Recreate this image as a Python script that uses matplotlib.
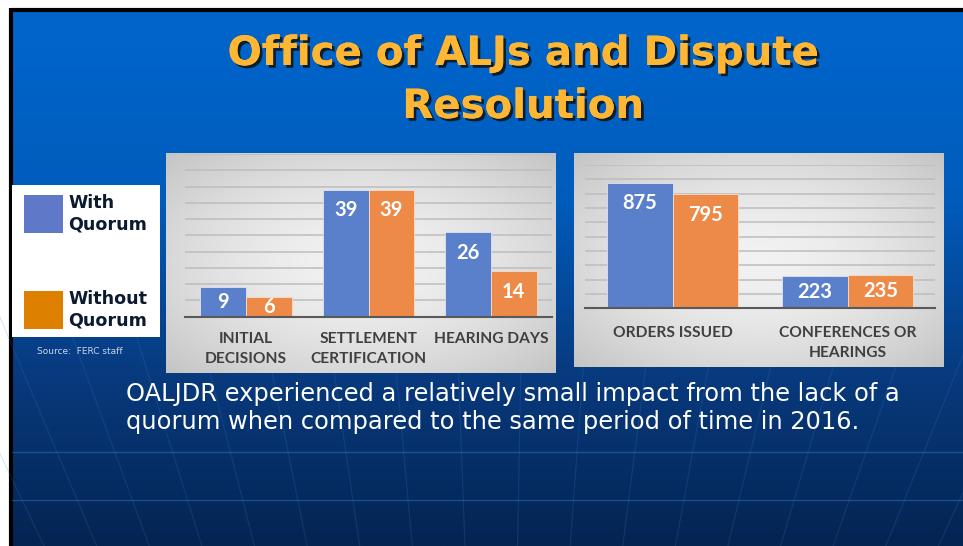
import matplotlib.pyplot as plt
import matplotlib.patheffects as pe
import numpy as np

# data
left_categories = ['INITIAL\nDECISIONS', 'SETTLEMENT\nCERTIFICATION', 'HEARING DAYS']
left_with = [9, 39, 26]
left_without = [6, 39, 14]

right_categories = ['ORDERS ISSUED', 'CONFERENCES OR\nHEARINGS']
right_with = [875, 223]
right_without = [795, 235]

series_names = ['With\nQuorum', 'Without\nQuorum']

W, H = 963, 546
blue_bar = '#5B80CB'
orange_bar = '#EE8A47'
blue_key = '#6078C8'
orange_key = '#DD8000'

fig = plt.figure(figsize=(W / 100, H / 100), dpi=100)
fig.patch.set_facecolor('white')

# background axes in pixel coordinates (y down)
bg = fig.add_axes([0, 0, 1, 1])
bg.set_xlim(0, W)
bg.set_ylim(H, 0)
bg.set_axis_off()

# slide gradient
stops_y = [0.0, 0.35, 0.68, 1.0]
stops_c = np.array([[0, 102, 204], [0, 92, 188], [8, 58, 126], [4, 36, 82]]) / 255
t = np.linspace(0, 1, 300)
grad = np.stack([np.interp(t, stops_y, stops_c[:, k]) for k in range(3)], axis=1)
grad = np.repeat(grad[:, None, :], 2, axis=1)
bg.imshow(grad, extent=(12, W, H, 11), aspect='auto', zorder=0)

# slide frame
bg.plot([11, W], [9.5, 9.5], color='black', lw=3, zorder=1, solid_capstyle='butt')
bg.plot([11, 11], [8, H], color='black', lw=3, zorder=1, solid_capstyle='butt')

# faint globe lines
for yy in [452, 500]:
    bg.plot([12, W], [yy, yy], color='#3F7FD8', lw=1, alpha=0.4, zorder=1)
px, py = 500, 1500
for x_top in np.arange(-300, 1400, 75):
    ys = np.linspace(300, H, 40)
    frac = (ys - 140) / (py - 140)
    xs = x_top + (px - x_top) * frac
    bg.plot(xs, ys, color='#3F7FD8', lw=0.8, alpha=0.2, zorder=1)

# title
title_fx = [pe.withSimplePatchShadow(offset=(2, -2), shadow_rgbFace='#111111', alpha=0.85), pe.Normal()]
for txt, yy in [('Office of ALJs and Dispute', 54), ('Resolution', 107)]:
    bg.text(523, yy, txt, ha='center', va='center', fontsize=29, fontweight='bold',
            color='#FFB733', family='DejaVu Sans', path_effects=title_fx, zorder=5)

# chart panels with light radial shading
def panel(x0, y0, x1, y1):
    ny, nx = 100, 200
    yy, xx = np.mgrid[-1:1:ny * 1j, -1:1:nx * 1j]
    r = np.sqrt(xx ** 2 + yy ** 2) / np.sqrt(2)
    v = 0.95 - 0.18 * r ** 1.6
    img = np.stack([v, v, v], axis=2)
    bg.imshow(img, extent=(x0, x1, y1, y0), aspect='auto', zorder=2)

panel(166, 153, 556, 373)
panel(574, 153, 944, 367)

# legend box
bg.add_patch(plt.Rectangle((12, 185), 148, 152, facecolor='white', edgecolor='none', zorder=3))
bg.add_patch(plt.Rectangle((24, 195), 39, 38, facecolor=blue_key, edgecolor='none', zorder=4))
bg.add_patch(plt.Rectangle((24, 291), 39, 38, facecolor=orange_key, edgecolor='none', zorder=4))
bg.text(68, 214, series_names[0], ha='left', va='center', fontsize=12.6, fontweight='bold',
        color='#0B1A30', linespacing=1.25, zorder=5)
bg.text(68, 310, series_names[1], ha='left', va='center', fontsize=12.6, fontweight='bold',
        color='#0B1A30', linespacing=1.25, zorder=5)
bg.text(37, 351, 'Source:  FERC staff', ha='left', va='center', fontsize=6.5,
        color='#C9D5E8', zorder=5)

# body text
bg.text(126, 408, 'OALJDR experienced a relatively small impact from the lack of a\n'
        'quorum when compared to the same period of time in 2016.',
        ha='left', va='center', fontsize=17.4, color='white', linespacing=1.22, zorder=5)


def chart(rect_px, cats, s1, s2, ymax, step, off_px, pad):
    left, right, top, base = rect_px
    ax = fig.add_axes([left / W, (H - base) / H, (right - left) / W, (base - top) / H])
    ax.patch.set_visible(False)
    x = np.arange(len(cats))
    bw = 0.375
    b1 = ax.bar(x - bw / 2, s1, bw, color=blue_bar, edgecolor='#DDE4F2', linewidth=0.6, zorder=3)
    b2 = ax.bar(x + bw / 2, s2, bw, color=orange_bar, edgecolor='#F8DCC8', linewidth=0.6, zorder=3)
    ax.set_xlim(-0.5, len(cats) - 0.5)
    ax.set_ylim(0, ymax)
    ax.set_yticks(np.arange(step, ymax + 1, step))
    ax.yaxis.grid(True, color='#BDBDBD', lw=1.1, zorder=1)
    ax.tick_params(axis='y', left=False, labelleft=False)
    ax.set_xticks(x)
    ax.set_xticklabels(cats, fontsize=11.2, fontweight='bold', color='#404040',
                       family='Lato', linespacing=1.55)
    ax.tick_params(axis='x', length=0, pad=pad)
    for s in ['top', 'left', 'right']:
        ax.spines[s].set_visible(False)
    ax.spines['bottom'].set_color('#595959')
    ax.spines['bottom'].set_linewidth(1.5)
    ax.spines['bottom'].set_zorder(4)
    units_per_px = ymax / (base - top)
    for bars in (b1, b2):
        for b in bars:
            v = b.get_height()
            yl = max(v - off_px * units_per_px, v / 2)
            ax.text(b.get_x() + b.get_width() / 2, yl, str(int(v)), ha='center', va='center',
                    fontsize=14.5, fontweight='bold', color='white', family='Lato', zorder=5)
    return ax


chart((185, 552, 154.2, 316.7), left_categories, left_with, left_without, 50, 5, 20.5, 11)
chart((585, 935, 164.8, 308.3), right_categories, right_with, right_without, 1000, 100, 20.6, 13)

fig.savefig('out.png', dpi=100)
